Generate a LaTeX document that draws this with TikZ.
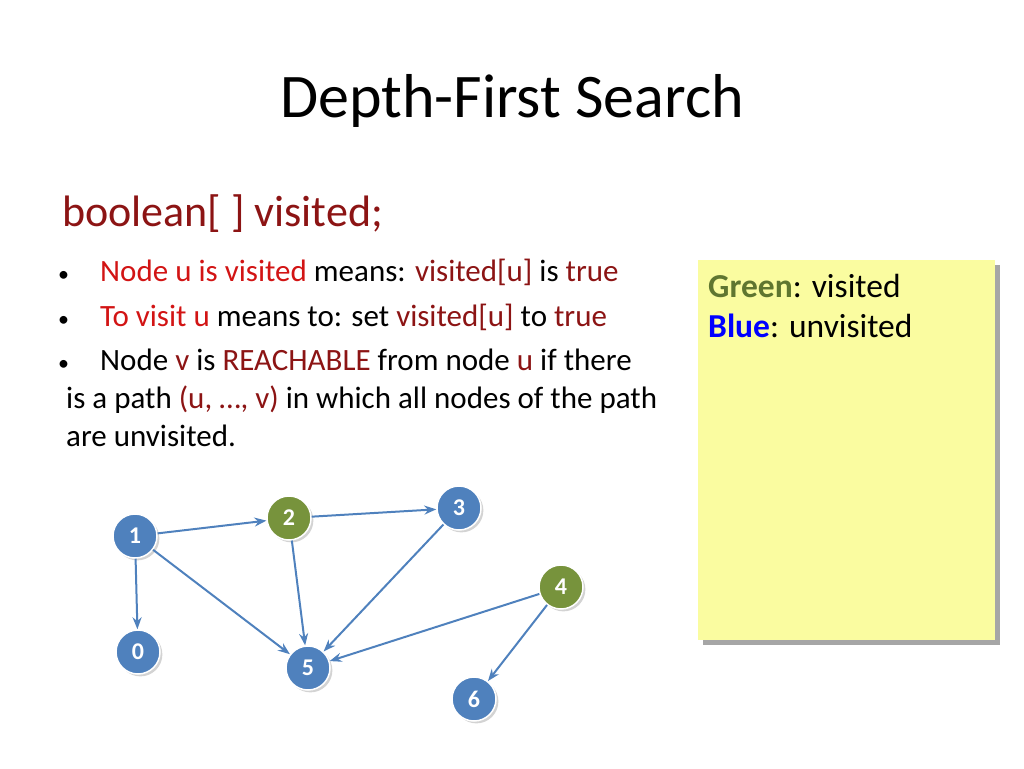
\documentclass[tikz,border=0pt]{standalone}
\usepackage{fontspec}
\setmainfont{Carlito}
\usetikzlibrary{arrows.meta,shadows}
\definecolor{dred}{RGB}{140,20,20}
\definecolor{bred}{RGB}{210,20,20}
\definecolor{nblue}{RGB}{79,129,189}
\definecolor{ngreen}{RGB}{119,147,60}
\definecolor{edge}{RGB}{79,129,189}
\definecolor{note}{RGB}{250,252,160}
\tikzset{
 gnode/.style={circle,minimum size=44pt,inner sep=0pt,draw=white,line width=1.5pt,text=white,font=\fontsize{24}{24}\selectfont\bfseries,drop shadow={opacity=0.35}},
 bn/.style={gnode,fill=nblue},
 gn/.style={gnode,fill=ngreen},
 arr/.style={-{Stealth[length=12pt,width=9pt]},draw=edge,line width=2pt},
 txt/.style={anchor=base west,inner sep=0pt,font=\fontsize{31}{34}\selectfont}
}
\begin{document}
\begin{tikzpicture}[x=1pt,y=-1pt]
\useasboundingbox (0,0) rectangle (1024,768);
\node[anchor=base,inner sep=0pt,font=\fontsize{62}{66}\selectfont] (title) at (512,117) {Depth-First Search};
\node[txt,text=dred,font=\fontsize{44}{48}\selectfont] (decl) at (62,226) {boolean[ ] visited;};
\node[txt,font=\fontsize{22}{24}\selectfont] (b1) at (58,281) {\textbullet};
\node[txt] (l1) at (100,281) {\textcolor{bred}{Node u is visited} means: \textcolor{dred}{visited[u]} is \textcolor{dred}{true}};
\node[txt,font=\fontsize{22}{24}\selectfont] (b2) at (58,326) {\textbullet};
\node[txt] (l2) at (100,326) {\textcolor{bred}{To visit u} means to: set \textcolor{dred}{visited[u]} to \textcolor{dred}{true}};
\node[txt,font=\fontsize{22}{24}\selectfont] (b3) at (58,370) {\textbullet};
\node[txt] (l3) at (100,370) {Node \textcolor{dred}{v} is \textcolor{dred}{REACHABLE} from node \textcolor{dred}{u} if there};
\node[txt] (l4) at (66,408) {is a path \textcolor{dred}{(u, …, v)} in which all nodes of the path};
\node[txt] (l5) at (66,446) {are unvisited.};
\fill[black!35] (703,265) rectangle (1000,645);
\fill[note] (698,260) rectangle (995,640);
\node[txt,font=\fontsize{33.5}{36}\selectfont] (g) at (708,297) {\textcolor{ngreen!80!black}{\bfseries Green}: visited};
\node[txt,font=\fontsize{33.5}{36}\selectfont] (bl) at (708,337) {\textcolor{blue}{\bfseries Blue}: unvisited};
\node[bn] (n1) at (135,536) {1};
\node[gn] (n2) at (289,518) {2};
\node[bn] (n3) at (459,508) {3};
\node[gn] (n4) at (561,587) {4};
\node[bn] (n0) at (138,652) {0};
\node[bn] (n5) at (308,668) {5};
\node[bn] (n6) at (474,699) {6};
\draw[arr] (n1) -- (n2);
\draw[arr] (n2) -- (n3);
\draw[arr] (n1) -- (n0);
\draw[arr] (n1) -- (n5);
\draw[arr] (n2) -- (n5);
\draw[arr] (n3) -- (n5);
\draw[arr] (n4) -- (n5);
\draw[arr] (n4) -- (n6);
\end{tikzpicture}
\end{document}
